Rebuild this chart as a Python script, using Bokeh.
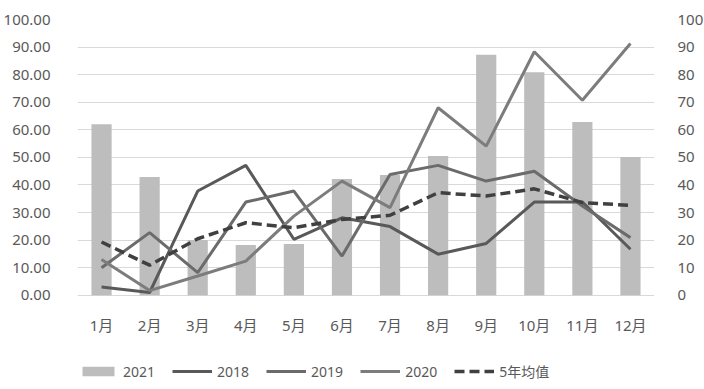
from bokeh.plotting import figure
from bokeh.models import (Range1d, LinearAxis, FixedTicker, Legend, LegendItem,
                          ColumnDataSource, NumeralTickFormatter, FactorRange)
from bokeh.embed import file_html
from bokeh.resources import INLINE

months = ["1月", "2月", "3月", "4月", "5月", "6月", "7月", "8月", "9月", "10月", "11月", "12月"]
y2021 = [62.0, 42.9, 20.0, 18.2, 18.6, 42.2, 43.6, 50.5, 87.2, 80.9, 62.8, 50.1]
y2018 = [3.0, 1.0, 37.8, 47.1, 20.3, 28.1, 24.9, 14.9, 18.8, 33.8, 33.8, 16.7]
y2019 = [10.0, 22.7, 8.2, 33.8, 37.8, 14.2, 43.8, 47.1, 41.4, 45.0, 32.4, 20.9]
y2020 = [13.0, 1.7, 7.0, 12.4, 28.7, 41.4, 31.8, 68.0, 54.1, 88.3, 70.7, 91.3]
avg5 = [19.3, 10.9, 20.5, 26.3, 24.5, 27.5, 29.0, 37.2, 36.0, 38.6, 33.6, 32.6]
left_ticks = [0, 10, 20, 30, 40, 50, 60, 70, 80, 90, 100]

src = ColumnDataSource(dict(m=months, y2021=y2021, y2018=y2018, y2019=y2019,
                            y2020=y2020, avg5=avg5))

# the frame extends below zero so the legend can sit inside it
p = figure(x_range=FactorRange(*months, range_padding=0), y_range=Range1d(-32, 100),
           frame_width=577, frame_height=364, min_border_left=75, min_border_top=19,
           min_border_bottom=2, min_border_right=10,
           output_backend="svg", toolbar_location=None)
p.extra_y_ranges = {"right": Range1d(-32, 100)}
p.outline_line_color = None
p.background_fill_color = "white"
p.border_fill_color = "white"

bar_color = "#bdbdbd"
c2018 = "#595959"
c2019 = "#6b6b6b"
c2020 = "#7c7c7c"
cavg = "#404040"

rbar = p.vbar(x="m", top="y2021", width=0.42, source=src, fill_color=bar_color,
              line_color=None)
r18 = p.line(x="m", y="y2018", source=src, line_color=c2018, line_width=3,
             y_range_name="right")
r19 = p.line(x="m", y="y2019", source=src, line_color=c2019, line_width=3,
             y_range_name="right")
r20 = p.line(x="m", y="y2020", source=src, line_color=c2020, line_width=3,
             y_range_name="right")
ravg = p.line(x="m", y="avg5", source=src, line_color=cavg, line_width=3.5,
              line_dash="10 5", y_range_name="right")

font_num = "Noto Sans, Noto Sans CJK SC"
tick_color = "#595959"

p.xgrid.grid_line_color = None
p.ygrid.grid_line_color = "#d9d9d9"
p.ygrid.grid_line_width = 1
p.ygrid.ticker = FixedTicker(ticks=left_ticks)

ax = p.xaxis[0]
ax.fixed_location = 0
ax.axis_line_color = None
ax.major_tick_line_color = None
ax.minor_tick_line_color = None
ax.major_label_text_font = font_num
ax.major_label_text_font_size = "15px"
ax.major_label_text_color = tick_color
ax.major_label_standoff = 14

ay = p.yaxis[0]
ay.ticker = FixedTicker(ticks=left_ticks)
ay.formatter = NumeralTickFormatter(format="0.00")
ay.axis_line_color = None
ay.major_tick_line_color = None
ay.minor_tick_line_color = None
ay.major_label_text_font = font_num
ay.major_label_text_font_size = "15px"
ay.major_label_text_color = tick_color
ay.major_label_standoff = 21

ar = LinearAxis(y_range_name="right", ticker=FixedTicker(ticks=left_ticks),
                formatter=NumeralTickFormatter(format="0"))
ar.axis_line_color = None
ar.major_tick_line_color = None
ar.minor_tick_line_color = None
ar.major_label_text_font = font_num
ar.major_label_text_font_size = "15px"
ar.major_label_text_color = tick_color
ar.major_label_standoff = 17
p.add_layout(ar, "right")

legend = Legend(items=[LegendItem(label="2021", renderers=[rbar]),
                       LegendItem(label="2018", renderers=[r18]),
                       LegendItem(label="2019", renderers=[r19]),
                       LegendItem(label="2020", renderers=[r20]),
                       LegendItem(label="5年均值", renderers=[ravg])],
                orientation="horizontal", location=(1, 2),
                glyph_width=40, glyph_height=12, label_standoff=5, spacing=17,
                padding=0, margin=0, border_line_color=None,
                background_fill_alpha=0,
                label_text_font=font_num, label_text_font_size="14px",
                label_text_color=tick_color)
p.add_layout(legend, "center")

open("out.html", "w").write(file_html(p, INLINE))
